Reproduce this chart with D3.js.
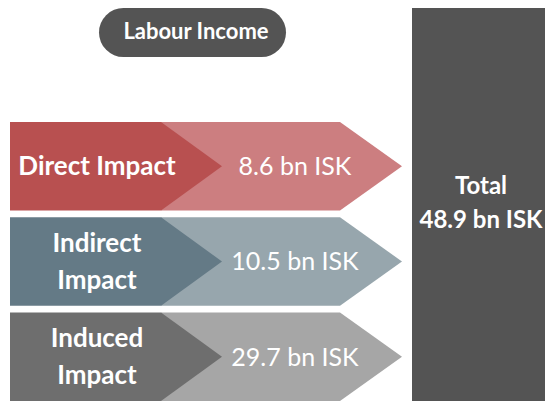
<!DOCTYPE html>
<html>
<head>
<meta charset="utf-8">
<script src="https://cdn.jsdelivr.net/npm/d3@7"></script>
<style>
  html, body { margin: 0; padding: 0; background: #fff; }
  svg { display: block; }
  text { font-family: Lato, "Open Sans", sans-serif; fill: #fff; }
</style>
</head>
<body>
<svg id="chart" width="545" height="401"></svg>
<script>
const title = "Labour Income";
const categories = ["Direct Impact", "Indirect Impact", "Induced Impact"];
const labelLines = [["Direct Impact"], ["Indirect", "Impact"], ["Induced", "Impact"]];
const values = [8.6, 10.5, 29.7];
const unit = "bn ISK";
const totalLabel = "Total";
const totalValue = 48.9;
const darkColors = ["#b85050", "#647a86", "#6e6e6e"];
const lightColors = ["#cc7e80", "#97a6ad", "#a6a6a6"];
const totalColor = "#545454";

const W = 545, H = 401;
const svg = d3.select("#chart");

const y = d3.scaleBand().domain(categories).range([122, 401]).paddingInner(0.072);

const rows = categories.map((c, i) => ({ c, i, lines: labelLines[i], v: values[i] }));

const g = svg.append("g");
const row = g.selectAll("g.row").data(rows).join("g").attr("class", "row")
  .attr("transform", d => `translate(0,${y(d.c)})`);

const bh = y.bandwidth();
const xL = 10, xDarkRect = 161, xDarkTip = 222, xLightRect = 340, xLightTip = 402;

// light arrow
row.append("path")
  .attr("fill", d => lightColors[d.i])
  .attr("d", d3.line()([[xDarkRect, 0], [xLightRect, 0], [xLightTip, bh / 2], [xLightRect, bh], [xDarkRect, bh]]) + "Z");
// dark arrow
row.append("path")
  .attr("fill", d => darkColors[d.i])
  .attr("d", d3.line()([[xL, 0], [xDarkRect, 0], [xDarkTip, bh / 2], [xDarkRect, bh], [xL, bh]]) + "Z");

// category labels
row.each(function (d) {
  const t = d3.select(this).append("text")
    .attr("text-anchor", "middle")
    .attr("font-weight", "bold")
    .attr("font-size", 26);
  const n = d.lines.length;
  const lh = 37;
  d.lines.forEach((l, k) => {
    t.append("tspan")
      .attr("x", 97)
      .attr("y", bh / 2 + (k - (n - 1) / 2) * lh)
      .attr("dy", "0.35em")
      .text(l);
  });
});

// values
row.append("text")
  .attr("x", 295)
  .attr("y", bh / 2)
  .attr("dy", "0.35em")
  .attr("text-anchor", "middle")
  .attr("font-size", 25)
  .text(d => `${d.v} ${unit}`);

// title pill
svg.append("rect")
  .attr("x", 99).attr("y", 8).attr("width", 187).attr("height", 49)
  .attr("rx", 24.5).attr("fill", totalColor);
svg.append("text")
  .attr("x", 196).attr("y", 31).attr("dy", "0.35em")
  .attr("text-anchor", "middle")
  .attr("font-weight", "bold")
  .attr("font-size", 22)
  .text(title);

// total bar
svg.append("rect")
  .attr("x", 412).attr("y", 8).attr("width", W - 412).attr("height", H - 8)
  .attr("fill", totalColor);
const tt = svg.append("text").attr("text-anchor", "middle").attr("font-weight", "bold").attr("font-size", 24);
tt.append("tspan").attr("x", 481).attr("y", 186).attr("dy", "0.35em").text(totalLabel);
tt.append("tspan").attr("x", 481).attr("y", 220).attr("dy", "0.35em").text(`${totalValue} ${unit}`);
</script>
</body>
</html>
